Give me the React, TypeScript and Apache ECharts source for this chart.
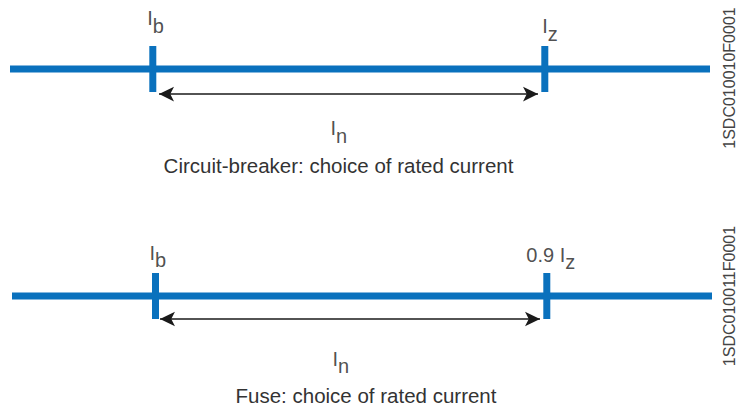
import React, { useEffect, useRef } from "react";
import * as echarts from "echarts";

// ---- data ----
const diagrams = ["Circuit-breaker", "Fuse"];
const captions = ["Circuit-breaker: choice of rated current", "Fuse: choice of rated current"];
const figureIds = ["1SDC010010F0001", "1SDC010011F0001"];
const lineStart = [0, 0];
const lineEnd = [100, 100];
const ibPos = [20.4, 20.5];
const izPos = [76.4, 76.4];
const lowLabels = [["I", "b"], ["I", "b"]];
const highLabels = [["I", "z"], ["0.9 I", "z"]];
const ratedLabels = [["I", "n"], ["I", "n"]];
const tickHalf = [1, 1];
const arrowLevel = [-1.09, -1.0];
const arrowFrom = [21.29, 21.14];
const arrowTo = [75.43, 75.43];

// ---- styles / layout ----
const BLUE = "#0a71bd";
const TEXT = "#333333";
const LABEL = "#222222";
const FONT = "'Liberation Sans', Arial, Helvetica, sans-serif";
const grids = [
  { left: 10, width: 700, top: 23, height: 92 },
  { left: 12, width: 700, top: 250, height: 92 },
];
const labelFont = [20, 20];
const subShift = [8, 7];
const lowOffset = [[-5, -38], [-5.5, -30]];
const highOffset = [[-2, -30], [-20, -28]];
const ratedOffset = [[-17.5, 24], [-17, 30]];
const captionPos = [[338.5, 165], [366, 395]];
const idPos = [[729, 78], [729, 296]];

function richLabel(parts: string[], d: number, offset: number[]) {
  const F = labelFont[d];
  return {
    show: true,
    position: offset,
    align: "left",
    verticalAlign: "top",
    fontSize: F,
    lineHeight: F,
    color: LABEL,
    fontFamily: FONT,
    formatter: `{m|${parts[0]}}{s|${parts[1]}}`,
    rich: {
      m: { fontSize: F, lineHeight: F, verticalAlign: "top", color: LABEL, fontFamily: FONT },
      s: {
        fontSize: F,
        lineHeight: F,
        verticalAlign: "top",
        padding: [subShift[d], 0, 0, 0],
        color: LABEL,
        fontFamily: FONT,
      },
    },
  };
}

function buildSeries() {
  const series: any[] = [];
  diagrams.forEach((_, d) => {
    const common = { xAxisIndex: d, yAxisIndex: d, silent: true, clip: false, symbol: "none" };
    series.push({
      ...common,
      type: "line",
      name: diagrams[d] + " line",
      data: [[lineStart[d], 0], [lineEnd[d], 0]],
      lineStyle: { color: BLUE, width: 7, cap: "butt" },
    });
    [ibPos[d], izPos[d]].forEach((x, k) => {
      series.push({
        ...common,
        type: "line",
        name: diagrams[d] + " tick " + k,
        data: [[x, -tickHalf[d]], [x, tickHalf[d]]],
        lineStyle: { color: BLUE, width: 7, cap: "butt" },
      });
    });
    series.push({
      ...common,
      type: "line",
      name: diagrams[d] + " arrow",
      data: [],
      markLine: {
        silent: true,
        animation: false,
        symbol: ["arrow", "arrow"],
        symbolSize: [11, 15],
        label: { show: false },
        lineStyle: { color: "#1a1a1a", width: 1.6, type: "solid" },
        data: [[{ coord: [arrowFrom[d], arrowLevel[d]] }, { coord: [arrowTo[d], arrowLevel[d]] }]],
      },
    });
    series.push({
      xAxisIndex: d,
      yAxisIndex: d,
      type: "scatter",
      silent: true,
      clip: false,
      symbolSize: 1,
      itemStyle: { color: "transparent" },
      data: [
        { value: [ibPos[d], tickHalf[d]], label: richLabel(lowLabels[d], d, lowOffset[d]) },
        { value: [izPos[d], tickHalf[d]], label: richLabel(highLabels[d], d, highOffset[d]) },
        {
          value: [(arrowFrom[d] + arrowTo[d]) / 2, arrowLevel[d]],
          label: richLabel(ratedLabels[d], d, ratedOffset[d]),
        },
      ],
    });
  });
  return series;
}

export default function App() {
  const ref = useRef<HTMLDivElement>(null);
  useEffect(() => {
    if (!ref.current) return;
    const chart = echarts.init(ref.current, undefined, { renderer: "svg" });
    chart.setOption({
      animation: false,
      backgroundColor: "#ffffff",
      grid: grids.map((g) => ({ ...g, show: false })),
      xAxis: grids.map((_, i) => ({ type: "value", gridIndex: i, min: 0, max: 100, show: false })),
      yAxis: grids.map((_, i) => ({ type: "value", gridIndex: i, min: -2, max: 2, show: false })),
      series: buildSeries(),
      graphic: [
        ...captions.map((c, i) => ({
          type: "text",
          x: captionPos[i][0],
          y: captionPos[i][1],
          silent: true,
          style: {
            text: c,
            fill: TEXT,
            fontSize: 20.5,
            fontFamily: FONT,
            align: "center",
            verticalAlign: "middle",
          },
        })),
        ...figureIds.map((t, i) => ({
          type: "text",
          x: idPos[i][0],
          y: idPos[i][1],
          rotation: Math.PI / 2,
          silent: true,
          style: {
            text: t,
            fill: "#444444",
            fontSize: 16,
            lineHeight: 16,
            fontFamily: FONT,
            align: "center",
            verticalAlign: "middle",
          },
        })),
      ],
    });
    return () => chart.dispose();
  }, []);
  return (
    <div
      ref={ref}
      style={{ width: 738, height: 408, position: "fixed", left: 0, top: 0 }}
    />
  );
}
